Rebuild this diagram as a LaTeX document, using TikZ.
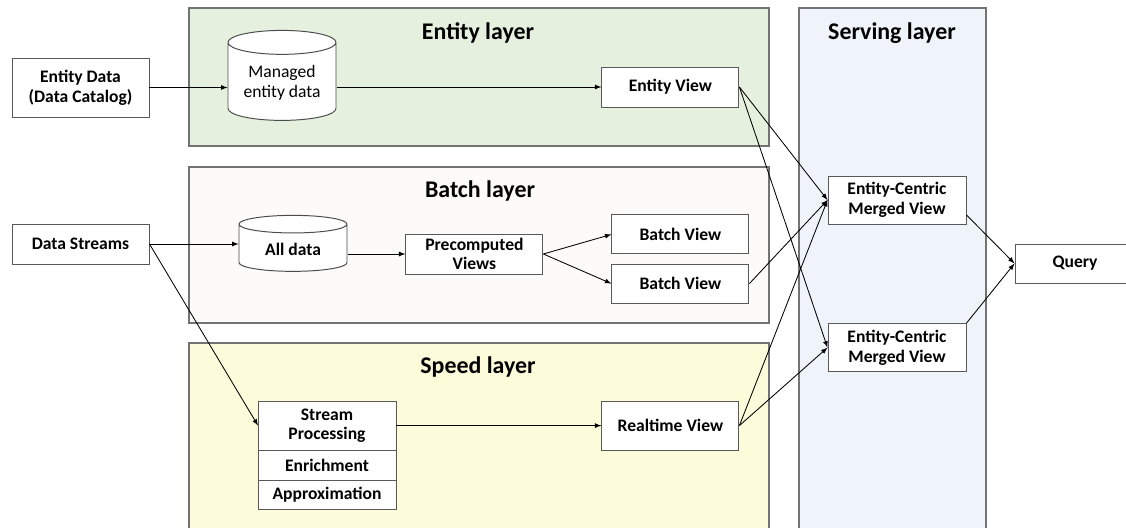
\documentclass[tikz,border=0pt]{standalone}
\usepackage{fontspec}
\setmainfont{Carlito}
\usetikzlibrary{shapes.geometric}
\definecolor{entityfill}{HTML}{E5F0DE}
\definecolor{batchfill}{HTML}{FCFBFA}
\definecolor{speedfill}{HTML}{FCFCDB}
\definecolor{servingfill}{HTML}{EFF4FB}
\begin{document}
\begin{tikzpicture}[>=latex,
    box/.style={draw=black!65, fill=white, line width=0.7pt, align=center, inner sep=0.5pt,
        font=\bfseries\fontsize{12.5}{14}\selectfont},
    store/.style={cylinder, shape border rotate=90, aspect=0.3, draw=black!70, fill=white,
        line width=0.7pt, align=center, inner sep=1pt},
    layer/.style={draw=black!55, line width=0.8pt},
    title/.style={font=\bfseries\fontsize{17}{20}\selectfont},
    flow/.style={->, line width=0.6pt}]
    % fix the page size
    \useasboundingbox (0cm,0cm) rectangle (28.15cm,-13.2cm);

    % draw the layers
    \filldraw[layer, fill=entityfill] (4.725cm,-0.2cm) rectangle (19.225cm,-3.65cm);
    \filldraw[layer, fill=batchfill] (4.725cm,-4.175cm) rectangle (19.225cm,-8.075cm);
    \filldraw[layer, fill=speedfill] (4.725cm,-8.575cm) rectangle (19.225cm,-13.6cm);
    \filldraw[layer, fill=servingfill] (19.975cm,-0.2cm) rectangle (24.65cm,-13.6cm);

    % layer titles
    \node[title] (entitytitle) at (11.95cm,-0.825cm) {Entity layer};
    \node[title] (batchtitle) at (12cm,-4.775cm) {Batch layer};
    \node[title] (speedtitle) at (11.95cm,-9.175cm) {Speed layer};
    \node[title] (servingtitle) at (22.3cm,-0.825cm) {Serving layer};

    % sources
    \node[box, minimum width=3.425cm, minimum height=1.475cm] (edata) at (2.0125cm,-2.1875cm) {Entity Data\\(Data Catalog)};
    \node[box, minimum width=3.425cm, minimum height=1cm] (dstreams) at (2.0125cm,-6.1cm) {Data Streams};

    % entity layer
    \node[store, minimum width=2.7cm, minimum height=2.25cm, font=\fontsize{12.5}{14}\selectfont] (managed) at (7.05cm,-2.075cm) {Managed\\entity data};
    \node[box, minimum width=3.425cm, minimum height=1cm] (eview) at (16.76cm,-2.175cm) {Entity View};

    % batch layer
    \node[store, minimum width=2.7cm, minimum height=1.4cm, font=\bfseries\fontsize{12.5}{14}\selectfont] (alldata) at (7.325cm,-6.225cm) {All data};
    \node[box, minimum width=3.425cm, minimum height=1cm] (precomp) at (11.86cm,-6.35cm) {Precomputed\\Views};
    \node[box, minimum width=3.425cm, minimum height=0.975cm] (bview1) at (17.01cm,-5.86cm) {Batch View};
    \node[box, minimum width=3.425cm, minimum height=0.975cm] (bview2) at (17.01cm,-7.09cm) {Batch View};

    % speed layer
    \node[box, outer sep=0pt, minimum width=3.45cm, minimum height=1.225cm] (sproc) at (8.175cm,-10.64cm) {Stream\\Processing};
    \node[box, outer sep=0pt, minimum width=3.45cm, minimum height=0.75cm, anchor=north] (enrich) at (sproc.south) {Enrichment};
    \node[box, outer sep=0pt, minimum width=3.45cm, minimum height=0.725cm, anchor=north] (approx) at (enrich.south) {Approximation};
    \node[box, minimum width=3.425cm, minimum height=1.225cm] (rtview) at (16.76cm,-10.64cm) {Realtime View};

    % serving layer and query
    \node[box, minimum width=3.45cm, minimum height=1.2cm] (merged1) at (22.425cm,-5cm) {Entity-Centric\\Merged View};
    \node[box, minimum width=3.45cm, minimum height=1.2cm] (merged2) at (22.425cm,-8.69cm) {Entity-Centric\\Merged View};
    \node[box, minimum width=3cm, minimum height=0.975cm] (query) at (26.875cm,-6.5875cm) {Query};

    % arrows
    \draw[flow] (edata.east) -- (edata.east -| managed.west);
    \draw[flow] (managed.east |- eview.west) -- (eview.west);
    \draw[flow] (dstreams.east) -- (dstreams.east -| alldata.west);
    \draw[flow] (dstreams.east) -- (sproc.west);
    \draw[flow] (alldata.east |- precomp.west) -- (precomp.west);
    \draw[flow] (precomp.east) -- (bview1.west);
    \draw[flow] (precomp.east) -- (bview2.west);
    \draw[flow] (sproc.east) -- (rtview.west);
    \draw[flow] (eview.east) -- (merged1.west);
    \draw[flow] (eview.east) -- (merged2.west);
    \draw[flow] (bview2.east) -- (merged1.west);
    \draw[flow] (rtview.east) -- (merged1.west);
    \draw[flow] (rtview.east) -- (merged2.west);
    \draw[flow] ([yshift=-0.375cm]merged1.east) -- (query.west);
    \draw[flow] (merged2.north east) -- (query.west);
\end{tikzpicture}
\end{document}
